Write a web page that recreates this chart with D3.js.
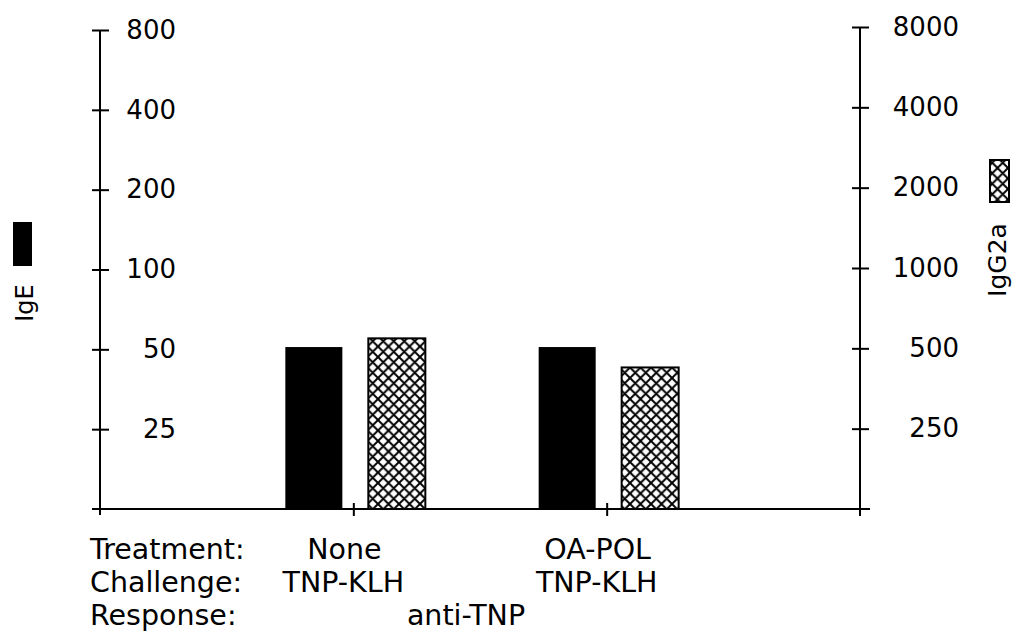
<!DOCTYPE html>
<html>
<head>
<meta charset="utf-8">
<script src="https://cdn.jsdelivr.net/npm/d3@7"></script>
<style>
  body { margin: 0; background: #fff; }
  text { font-family: "DejaVu Sans", sans-serif; fill: #000; }
</style>
</head>
<body>
<div id="chart"></div>
<script>
// values (log2 axes)
var treatments = ["None", "OA-POL"];
var challenges = ["TNP-KLH", "TNP-KLH"];
var response = "anti-TNP";
var rowLabels = ["Treatment:", "Challenge:", "Response:"];
var series = ["IgE", "IgG2a"];
var igE = [51, 51];
var igG2a = [545, 424];
var leftTicks = [25, 50, 100, 200, 400, 800];
var rightTicks = [250, 500, 1000, 2000, 4000, 8000];

var width = 1021, height = 641;
var base = 509;

var svg = d3.select("#chart").append("svg")
    .attr("width", width)
    .attr("height", height);

// cross hatch
var hs = 10.5;
var pat = svg.append("defs").append("pattern")
    .attr("id", "xhatch")
    .attr("patternUnits", "userSpaceOnUse")
    .attr("width", hs)
    .attr("height", hs);
pat.append("rect").attr("width", hs).attr("height", hs).attr("fill", "#fff");
pat.append("path")
    .attr("d", "M-1,1 l2,-2 M0," + hs + " l" + hs + "," + (-hs) + " M" + (hs - 1) + "," + (hs + 1) + " l2,-2"
             + " M-1," + (hs - 1) + " l2,2 M0,0 l" + hs + "," + hs + " M" + (hs - 1) + ",-1 l2,2")
    .attr("stroke", "#000")
    .attr("stroke-width", 2);

var x = d3.scaleLinear().domain([0, 3]).range([100, 860]);
var inner = d3.scaleBand().domain(series).range([-68, 72]).paddingInner(0.313);
var yL = d3.scaleLog().base(2).domain([12.5, 800]).range([base, 30]);
var yR = d3.scaleLog().base(2).domain([125, 8000]).range([base, 27]);

// bars
var bars = svg.append("g");
bars.selectAll(".ige").data(igE).enter().append("rect")
    .attr("x", (d, i) => x(i + 1) + inner("IgE"))
    .attr("width", inner.bandwidth())
    .attr("y", d => yL(d))
    .attr("height", d => base - yL(d))
    .attr("fill", "#000");
bars.selectAll(".igg").data(igG2a).enter().append("rect")
    .attr("x", (d, i) => x(i + 1) + inner("IgG2a"))
    .attr("width", inner.bandwidth())
    .attr("y", d => yR(d))
    .attr("height", d => base - yR(d))
    .attr("fill", "url(#xhatch)")
    .attr("stroke", "#000")
    .attr("stroke-width", 2);

function styleAxis(g, labelX) {
  g.attr("font-family", null).attr("font-size", null);
  g.select(".domain").remove();
  g.selectAll(".tick line").attr("x1", -8).attr("x2", 9).attr("stroke-width", 2);
  g.selectAll(".tick text")
      .attr("x", labelX)
      .attr("text-anchor", "end")
      .attr("font-size", 26);
}

// left axis
var gL = svg.append("g")
    .attr("transform", "translate(" + x(0) + ",0)")
    .call(d3.axisRight(yL).tickValues(leftTicks).tickFormat(d3.format("d")).tickSize(8));
styleAxis(gL, 76);
gL.append("line")
    .attr("y1", yL(800)).attr("y2", base + 6)
    .attr("stroke", "#000").attr("stroke-width", 2);

// right axis
var gR = svg.append("g")
    .attr("transform", "translate(" + x(3) + ",0)")
    .call(d3.axisRight(yR).tickValues(rightTicks).tickFormat(d3.format("d")).tickSize(8));
styleAxis(gR, 99);
gR.append("line")
    .attr("y1", yR(8000)).attr("y2", base + 7)
    .attr("stroke", "#000").attr("stroke-width", 2);

// x axis
var gX = svg.append("g")
    .attr("transform", "translate(0," + base + ")")
    .call(d3.axisBottom(x).tickValues([1, 2]).tickFormat("").tickSize(7));
gX.select(".domain").remove();
gX.selectAll(".tick line").attr("y1", -6).attr("stroke-width", 2);
gX.append("line")
    .attr("x1", x(0) - 8).attr("x2", x(3) + 10)
    .attr("stroke", "#000").attr("stroke-width", 2.2);

// labels under the axis
var rowY = [559, 592, 625];
var fs = 28.5;
svg.selectAll(".row").data(rowLabels).enter().append("text")
    .attr("x", 90)
    .attr("y", (d, i) => rowY[i])
    .attr("font-size", fs)
    .text(d => d);
svg.selectAll(".treat").data(treatments).enter().append("text")
    .attr("x", (d, i) => x(i + 1) - 9)
    .attr("y", rowY[0])
    .attr("text-anchor", "middle")
    .attr("font-size", fs)
    .text(d => d);
svg.selectAll(".chal").data(challenges).enter().append("text")
    .attr("x", (d, i) => x(i + 1) - 10)
    .attr("y", rowY[1])
    .attr("text-anchor", "middle")
    .attr("font-size", fs)
    .text(d => d);
svg.append("text")
    .attr("x", (x(1) + x(2)) / 2 - 14)
    .attr("y", rowY[2])
    .attr("text-anchor", "middle")
    .attr("font-size", fs)
    .text(response);

// legends
svg.append("rect")
    .attr("x", 13).attr("y", 222).attr("width", 19).attr("height", 44)
    .attr("fill", "#000");
svg.append("text")
    .attr("transform", "translate(33,303) rotate(-90)")
    .attr("text-anchor", "middle")
    .attr("font-size", 24)
    .text(series[0]);
svg.append("rect")
    .attr("x", 990).attr("y", 160).attr("width", 19).attr("height", 42)
    .attr("fill", "url(#xhatch)")
    .attr("stroke", "#000").attr("stroke-width", 2);
svg.append("text")
    .attr("transform", "translate(1006,260) rotate(-90)")
    .attr("text-anchor", "middle")
    .attr("font-size", 25)
    .text(series[1]);
</script>
</body>
</html>
